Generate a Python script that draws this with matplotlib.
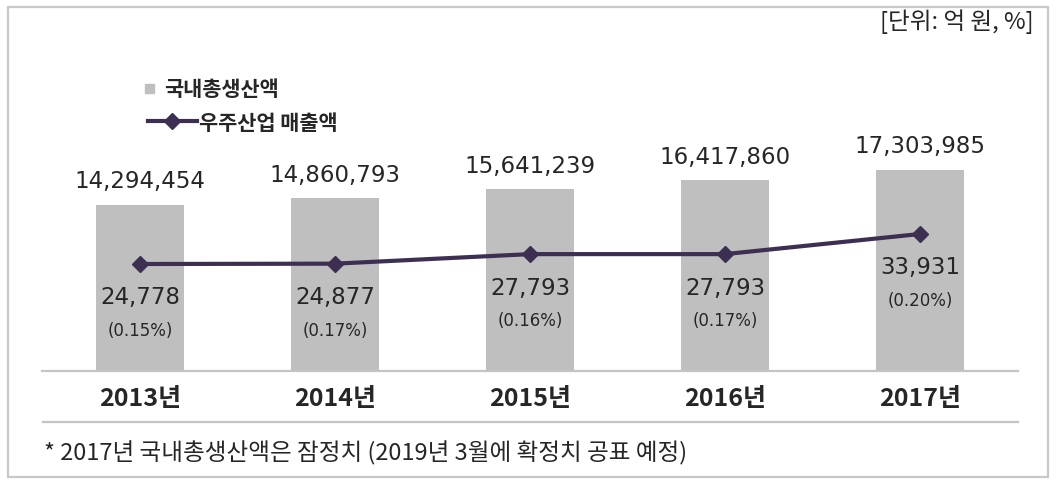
import matplotlib
matplotlib.use("Agg")
import matplotlib.pyplot as plt
import matplotlib.patches as mpatches
from matplotlib.lines import Line2D
from matplotlib.legend_handler import HandlerPatch

# ---- data ----
years = ["2013년", "2014년", "2015년", "2016년", "2017년"]
gdp = [14294454, 14860793, 15641239, 16417860, 17303985]
space_sales = [24778, 24877, 27793, 27793, 33931]
space_pct = ["(0.15%)", "(0.17%)", "(0.16%)", "(0.17%)", "(0.20%)"]
gdp_label = "국내총생산액"
space_label = "우주산업 매출액"
unit_text = "[단위: 억 원, %]"
footnote = "* 2017년 국내총생산액은 잠정치 (2019년 3월에 확정치 공표 예정)"

KR = ["Noto Sans CJK KR", "DejaVu Sans"]
BAR_C = "#bfbfbf"
LINE_C = "#3d2f52"
TXT_C = "#262626"

W, H = 1059, 489
fig = plt.figure(figsize=(W / 100, H / 100), dpi=100)

ax = fig.add_axes([42.5 / W, 117 / H, 975 / W, 272 / H])
x = list(range(len(years)))
bars = ax.bar(x, gdp, width=0.45, color=BAR_C, zorder=1)
ax.set_xlim(-0.5, 4.5)
ax.set_ylim(0, 2.34e7)
for s in ["top", "left", "right"]:
    ax.spines[s].set_visible(False)
ax.spines["bottom"].set_color("#c4c4c4")
ax.spines["bottom"].set_linewidth(1.6)
ax.set_yticks([])
ax.set_xticks(x)
ax.set_xticklabels(years, family=KR, fontweight="bold", fontsize=18, color=TXT_C)
ax.tick_params(axis="x", length=0, pad=11)
ax.plot([0, 1], [-0.1875, -0.1875], transform=ax.transAxes, color="#c4c4c4",
        lw=1.6, clip_on=False)

for xi, v in zip(x, gdp):
    ax.annotate(f"{v:,}", (xi, v), xytext=(0, 24), textcoords="offset pixels",
                ha="center", va="center", fontsize=16.5, color=TXT_C,
                family="DejaVu Sans")

ax2 = ax.twinx()
ax2.set_ylim(-7865, 75114)
ax2.plot(x, space_sales, color=LINE_C, lw=3, marker="D", markersize=8, zorder=3)
ax2.set_yticks([])
for s in ["top", "left", "right", "bottom"]:
    ax2.spines[s].set_visible(False)

for xi, v, p in zip(x, space_sales, space_pct):
    ax2.annotate(f"{v:,}", (xi, v), xytext=(0, -33), textcoords="offset pixels",
                 ha="center", va="center", fontsize=16.5, color=TXT_C,
                 family="DejaVu Sans")
    ax2.annotate(p, (xi, v), xytext=(0, -66), textcoords="offset pixels",
                 ha="center", va="center", fontsize=12, color=TXT_C,
                 family="DejaVu Sans")


def square(legend, orig_handle, xdescent, ydescent, width, height, fontsize):
    s = min(width, height) * 0.8
    return mpatches.Rectangle((-xdescent, -ydescent + (height - s) / 2), s, s)


h1 = mpatches.Patch(color=BAR_C, label=gdp_label)
leg1 = fig.legend(handles=[h1], loc="center left",
                  bbox_to_anchor=(145 / W, 1 - 90 / H), bbox_transform=fig.transFigure,
                  frameon=False, borderpad=0, borderaxespad=0, handlelength=0.55,
                  handleheight=0.55, handletextpad=0.35,
                  handler_map={mpatches.Patch: HandlerPatch(patch_func=square)},
                  prop={"family": KR, "weight": "bold", "size": 15})
for t in leg1.get_texts():
    t.set_color(TXT_C)
h2 = Line2D([], [], color=LINE_C, lw=3, marker="D", markersize=8, label=space_label)
leg2 = fig.legend(handles=[h2], loc="center left",
                  bbox_to_anchor=(148 / W, 1 - 123 / H), bbox_transform=fig.transFigure,
                  frameon=False, borderpad=0, borderaxespad=0, handlelength=2.35,
                  handletextpad=0.1,
                  prop={"family": KR, "weight": "bold", "size": 15})
for t in leg2.get_texts():
    t.set_color(TXT_C)

fig.text(1034 / W, 1 - 22 / H, unit_text, ha="right", va="center",
         family=KR, fontsize=17, color=TXT_C)
fig.text(44 / W, 1 - 453 / H, footnote, ha="left", va="center",
         family=KR, fontsize=17, color=TXT_C)

fig.patches.append(mpatches.Rectangle((8 / W, 11 / H), 1040 / W, 470 / H,
                                      transform=fig.transFigure, fill=False,
                                      edgecolor="#c8c8c8", lw=1.6))

fig.savefig("out.png", dpi=100)
